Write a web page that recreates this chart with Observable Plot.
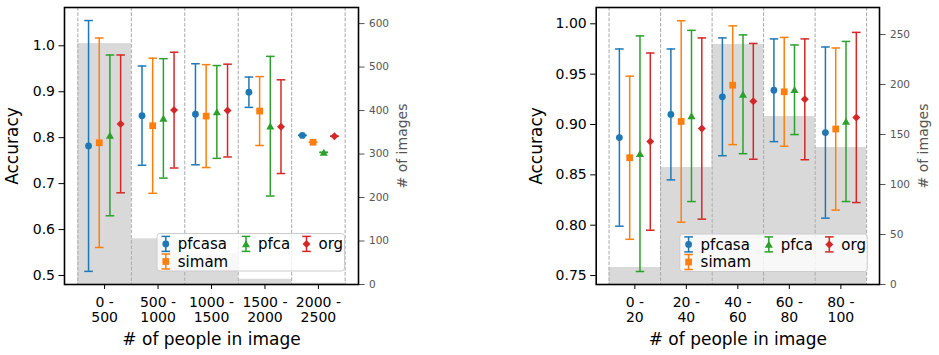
<!DOCTYPE html>
<html>
<head>
<meta charset="utf-8">
<script src="https://cdn.jsdelivr.net/npm/d3@7"></script>
<script src="https://cdn.jsdelivr.net/npm/@observablehq/plot@0.6"></script>
<style>
  body { margin: 0; background: #fff; }
  #root { position: relative; width: 939px; height: 355px; font-family: "DejaVu Sans", sans-serif; }
  #root > svg { position: absolute; top: 0; }
</style>
</head>
<body>
<div id="root"></div>
<script>
// Methods compared
const series = ["pfcasa", "simam", "pfca", "org"];

// Panel 1: crowd size bins 0–2500 people
const crowdBins = ["0 -\n500", "500 -\n1000", "1000 -\n1500", "1500 -\n2000", "2000 -\n2500"];
const crowdImages = [554, 105, 70, 12, 3];
const crowdPfcasa = [0.782, 0.848, 0.851, 0.899, 0.805];
const crowdPfcasaErr = [0.273, 0.108, 0.110, 0.033, 0];
const crowdSimam = [0.789, 0.826, 0.847, 0.858, 0.790];
const crowdSimamErr = [0.228, 0.147, 0.112, 0.075, 0];
const crowdPfca = [0.805, 0.842, 0.856, 0.825, 0.768];
const crowdPfcaErr = [0.175, 0.130, 0.101, 0.152, 0];
const crowdOrg = [0.830, 0.860, 0.859, 0.824, 0.803];
const crowdOrgErr = [0.150, 0.126, 0.101, 0.102, 0];
const crowdAccTicks = [0.5, 0.6, 0.7, 0.8, 0.9, 1.0];
const crowdImageTicks = [0, 100, 200, 300, 400, 500, 600];

// Panel 2: crowd size bins 0–100 people
const smallBins = ["0 -\n20", "20 -\n40", "40 -\n60", "60 -\n80", "80 -\n100"];
const smallImages = [17, 117, 240, 168, 137];
const smallPfcasa = [0.887, 0.910, 0.9275, 0.934, 0.892];
const smallPfcasaErr = [0.088, 0.065, 0.0585, 0.051, 0.085];
const smallSimam = [0.867, 0.903, 0.939, 0.9325, 0.8955];
const smallSimamErr = [0.081, 0.100, 0.059, 0.054, 0.0805];
const smallPfca = [0.871, 0.9085, 0.930, 0.9345, 0.903];
const smallPfcaErr = [0.117, 0.085, 0.059, 0.0445, 0.0795];
const smallOrg = [0.883, 0.896, 0.923, 0.925, 0.907];
const smallOrgErr = [0.088, 0.090, 0.0575, 0.060, 0.0845];
const smallAccTicks = [0.75, 0.80, 0.85, 0.90, 0.95, 1.00];
const smallImageTicks = [0, 50, 100, 150, 200, 250];

// Styling
const colors = ["#1f77b4", "#ff7f0e", "#2ca02c", "#d62728"];
const symbols = ["circle", "square", "triangle", "diamond2"];
const d3Symbols = [d3.symbolCircle, d3.symbolSquare, d3.symbolTriangle, d3.symbolDiamond2];
const markerR = [3.4, 3.8, 3.0, 3.6];
const markerDy = [0, 0, 1, 0];
const offsets = [-0.3, -0.1, 0.1, 0.3];
const xDomain = [-0.75, 4.75];
const edges = [-0.5, 0.5, 1.5, 2.5, 3.5, 4.5];
const capR = 4.3;
const axisGray = "#555";

// horizontal tick used as an error-bar cap
const capSymbol = {
  draw(context, size) {
    const w = Math.sqrt(size / Math.PI);
    context.moveTo(-w, 0);
    context.lineTo(w, 0);
  }
};

const root = document.getElementById("root");

function panel(cfg) {
  const rows = [];
  cfg.bins.forEach((b, i) => {
    series.forEach((s, k) => {
      rows.push({ i, k, series: s, x: i + offsets[k], mean: cfg.means[k][i], err: cfg.errs[k][i] });
    });
  });
  const bars = cfg.bins.map((b, i) => ({ i, count: cfg.images[i] }));

  const layout = {
    width: cfg.width,
    height: 355,
    marginLeft: cfg.marginLeft,
    marginRight: cfg.marginRight,
    marginTop: 7,
    marginBottom: 71,
    style: { fontFamily: "DejaVu Sans", fontSize: "14px", background: "transparent", overflow: "visible" }
  };

  // back layer: image counts on the secondary axis
  const back = Plot.plot({
    ...layout,
    x: { domain: xDomain, axis: null },
    y: { domain: [0, cfg.imagesMax], axis: null },
    marks: [
      Plot.rectY(bars, { x1: d => d.i - 0.5, x2: d => d.i + 0.5, y: "count", fill: "#d9d9d9" }),
      Plot.ruleX(edges, { x: d => d, stroke: "#a8a8a8", strokeWidth: 1, strokeDasharray: "3.7,1.6" }),
      Plot.axisY({ anchor: "right", ticks: cfg.imageTicks, tickSize: 5.5, tickPadding: 5, fontSize: 10.5, color: axisGray, label: null, tickFormat: d3.format("d") }),
      Plot.text(["# of images"], { text: d => d, frameAnchor: "right", dx: cfg.rightLabelDx, rotate: -90, fontSize: 14, fill: axisGray, textAnchor: "middle", lineAnchor: "middle" })
    ]
  });

  // front layer: accuracy with error bars
  const markMarks = series.map((s, k) =>
    Plot.dot(rows.filter(d => d.k === k), { x: "x", y: "mean", symbol: symbols[k], r: markerR[k], dy: markerDy[k], fill: colors[k], stroke: "none" })
  );
  const front = Plot.plot({
    ...layout,
    x: { domain: xDomain },
    y: { domain: cfg.accDomain },
    marks: [
      Plot.ruleX(rows, { x: "x", y1: d => d.mean - d.err, y2: d => d.mean + d.err, stroke: d => colors[d.k], strokeWidth: 1.5 }),
      Plot.dot(rows, { x: "x", y: d => d.mean - d.err, symbol: capSymbol, r: capR, fill: "none", stroke: d => colors[d.k], strokeWidth: 1.5 }),
      Plot.dot(rows, { x: "x", y: d => d.mean + d.err, symbol: capSymbol, r: capR, fill: "none", stroke: d => colors[d.k], strokeWidth: 1.5 }),
      ...markMarks,
      Plot.axisY({ anchor: "left", ticks: cfg.accTicks, tickFormat: cfg.accFormat, tickSize: 5.5, tickPadding: 4, fontSize: 14, label: null }),
      Plot.axisX({ ticks: [0, 1, 2, 3, 4], tickFormat: i => cfg.bins[i], tickSize: 5, tickPadding: 7, fontSize: 14, lineHeight: 1.07, label: null }),
      Plot.frame({ stroke: "black", strokeWidth: 1.6 }),
      Plot.text(["Accuracy"], { text: d => d, frameAnchor: "left", dx: cfg.leftLabelDx, rotate: -90, fontSize: 17, textAnchor: "middle", lineAnchor: "middle", fill: "black" }),
      Plot.text(["# of people in image"], { text: d => d, frameAnchor: "bottom", dy: 55.5, fontSize: 17, textAnchor: "middle", lineAnchor: "middle", fill: "black" })
    ]
  });

  for (const svg of [back, front]) {
    svg.style.left = cfg.left + "px";
    root.appendChild(svg);
  }
}

panel({
  left: 0, width: 470, marginLeft: 64, marginRight: 112,
  bins: crowdBins, images: crowdImages, imagesMax: 637, imageTicks: crowdImageTicks,
  means: [crowdPfcasa, crowdSimam, crowdPfca, crowdOrg],
  errs: [crowdPfcasaErr, crowdSimamErr, crowdPfcaErr, crowdOrgErr],
  accDomain: [0.4804, 1.0834], accTicks: crowdAccTicks, accFormat: d3.format(".1f"),
  leftLabelDx: -52, rightLabelDx: 44
});

panel({
  left: 470, width: 469, marginLeft: 125.7, marginRight: 60,
  bins: smallBins, images: smallImages, imagesMax: 277, imageTicks: smallImageTicks,
  means: [smallPfcasa, smallSimam, smallPfca, smallOrg],
  errs: [smallPfcasaErr, smallSimamErr, smallPfcaErr, smallOrgErr],
  accDomain: [0.7411, 1.0162], accTicks: smallAccTicks, accFormat: d3.format(".2f"),
  leftLabelDx: -59.7, rightLabelDx: 44
});

// Legends (error-bar style entries)
const legendLayer = d3.select(root).append("svg")
  .attr("width", 939).attr("height", 355)
  .style("left", "0px").style("pointer-events", "none");

function drawLegend(x0, y0) {
  const g = legendLayer.append("g").attr("transform", `translate(${x0},${y0})`);
  g.append("rect")
    .attr("x", 0.5).attr("y", 0.5).attr("width", 187.5).attr("height", 37.5).attr("rx", 3)
    .attr("fill", "white").attr("fill-opacity", 0.8)
    .attr("stroke", "#cccccc").attr("stroke-width", 1);
  const pos = [[9.3, 10.9], [9.3, 28.5], [89.5, 10.9], [150, 10.9]];
  series.forEach((s, k) => {
    const [px, py] = pos[k];
    const e = g.append("g").attr("transform", `translate(${px},${py})`);
    e.append("line").attr("x1", 0).attr("x2", 0).attr("y1", -7.5).attr("y2", 7.5)
      .attr("stroke", colors[k]).attr("stroke-width", 1.5);
    for (const cy of [-7.5, 7.5]) {
      e.append("line").attr("x1", -capR).attr("x2", capR).attr("y1", cy).attr("y2", cy)
        .attr("stroke", colors[k]).attr("stroke-width", 1.5);
    }
    e.append("path")
      .attr("transform", `translate(0,${markerDy[k]})`)
      .attr("d", d3.symbol(d3Symbols[k], Math.PI * markerR[k] * markerR[k])())
      .attr("fill", colors[k]);
    e.append("text").attr("x", 12).attr("y", 0).attr("dy", "0.35em")
      .attr("font-family", "DejaVu Sans").attr("font-size", 15).attr("fill", "black")
      .text(s);
  });
}
drawLegend(156.5, 233);
drawLegend(679.3, 233.5);
</script>
</body>
</html>
